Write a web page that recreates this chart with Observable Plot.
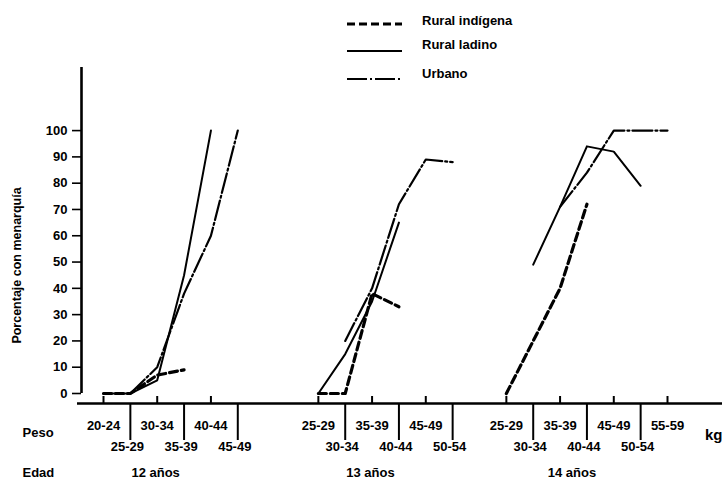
<!DOCTYPE html>
<html><head><meta charset="utf-8">
<script src="https://cdn.jsdelivr.net/npm/d3@7"></script>
<script src="https://cdn.jsdelivr.net/npm/@observablehq/plot@0.6"></script>
<style>
body{margin:0;background:#fff}
#wrap{position:relative;width:727px;height:482px}
</style>
</head><body><div id="wrap"></div>
<script>
// ---- data ----
const series = ["Rural indígena", "Rural ladino", "Urbano"];
const edades = ["12 años", "13 años", "14 años"];
const pesos12 = ["20-24","25-29","30-34","35-39","40-44","45-49"];
const pesos13 = ["25-29","30-34","35-39","40-44","45-49","50-54"];
const pesos14 = ["25-29","30-34","35-39","40-44","45-49","50-54","55-59"];
const indigena12 = [0, 0, 7, 9, null, null];
const ladino12   = [0, 0, 5, 45, 100, null];
const urbano12   = [null, 0, 10, 38, 60, 100];
const indigena13 = [0, 0, 38, 33, null, null];
const ladino13   = [0, 15, 35, 65, null, null];
const urbano13   = [null, 20, 40, 72, 89, 88];
const indigena14 = [0, 20, 40, 72, null, null, null];
const ladino14   = [null, 49, 71, 94, 92, 79, null];
const urbano14   = [null, null, 71, 84, 100, 100, 100];
const yTicks = [0, 10, 20, 30, 40, 50, 60, 70, 80, 90, 100];
const gapSlots = [2, 1]; // empty weight slots between age groups

// ---- build tables ----
const groupsDef = [
  {edad: edades[0], pesos: pesos12, vals: [indigena12, ladino12, urbano12]},
  {edad: edades[1], pesos: pesos13, vals: [indigena13, ladino13, urbano13]},
  {edad: edades[2], pesos: pesos14, vals: [indigena14, ladino14, urbano14]}
];
let slot = 0;
const cats = [], rows = [];
groupsDef.forEach((g, gi) => {
  const start = slot;
  g.pesos.forEach((p, i) => {
    cats.push({edad: g.edad, peso: p, slot, upper: i % 2 === 0});
    g.vals.forEach((arr, si) => {
      if (arr[i] != null) rows.push({serie: series[si], edad: g.edad, slot, value: arr[i]});
    });
    slot++;
  });
  g.center = (start + slot - 1) / 2;
  slot += gapSlots[gi] || 0;
});

// ---- layout ----
const W = 727, H = 482;
const mL = 81, mR = 5, mT = 67, mB = 89;
const kx = (667 - 103) / 21;
const xDom = [(mL - 103) / kx, (W - mR - 103) / kx];
const yDom = [0, 124];
const uy = (yDom[1] - yDom[0]) / (H - mB - mT);
const yBase = -10 * uy;
const font = "'Liberation Sans', Arial, Helvetica, sans-serif";

const lineOpts = {x: "slot", y: "value", z: "edad", stroke: "black", strokeLinejoin: "round"};

const chart = Plot.plot({
  width: W, height: H,
  marginLeft: mL, marginRight: mR, marginTop: mT, marginBottom: mB,
  x: {domain: xDom, axis: null},
  y: {domain: yDom, axis: null},
  style: {fontFamily: font, fontSize: "13px", fontWeight: "bold", background: "white", color: "black"},
  marks: [
    Plot.ruleY([yBase], {x1: (77 - 103) / kx, x2: xDom[1], strokeWidth: 2.6}),
    Plot.ruleX([xDom[0]], {y1: 0, y2: yDom[1], strokeWidth: 2.6}),
    Plot.axisY({ticks: yTicks, tickSize: 9, tickPadding: 5, label: null, fontSize: 13, strokeWidth: 1.6}),
    Plot.text(["Porcentaje con menarquía"], {x: xDom[0], y: 48.7, dx: -65, rotate: -90, fontSize: 12.5}),
    Plot.ruleX(cats.filter(d => d.upper), {x: "slot", y1: yBase, y2: -3 * uy, strokeWidth: 2}),
    Plot.ruleX(cats.filter(d => !d.upper), {x: "slot", y1: yBase, y2: -47 * uy, strokeWidth: 2}),
    Plot.text(cats.filter(d => d.upper), {x: "slot", y: yBase, dy: 22, text: "peso", fontSize: 13}),
    Plot.text(cats.filter(d => !d.upper), {x: "slot", y: yBase, dy: 43, text: "peso", dx: -3, fontSize: 13}),
    Plot.text(["Peso"], {x: xDom[0], y: yBase, dx: -59, dy: 29, textAnchor: "start", fontSize: 13}),
    Plot.text(["Edad"], {x: xDom[0], y: yBase, dx: -59, dy: 69, textAnchor: "start", fontSize: 13}),
    Plot.text(groupsDef, {x: "center", y: yBase, dx: -15, dy: 69, text: "edad", fontSize: 13}),
    Plot.text(["kg"], {x: xDom[1], y: yBase, dy: 32, textAnchor: "end", fontSize: 15}),
    Plot.line(rows.filter(d => d.serie === series[1]), {...lineOpts, strokeWidth: 2}),
    Plot.line(rows.filter(d => d.serie === series[2]), {...lineOpts, strokeWidth: 2.2, strokeDasharray: "20,3,2,3"}),
    Plot.line(rows.filter(d => d.serie === series[0]), {...lineOpts, strokeWidth: 3.2, strokeDasharray: "8,4"})
  ]
});
document.getElementById("wrap").appendChild(chart);

// ---- legend ----
const svg = d3.select(chart);
const legend = svg.append("g").attr("font-family", font).attr("font-weight", "bold")
  .attr("font-size", 13).attr("text-anchor", "start");
const legY = [24, 51, 79];
const legTextY = [20, 44, 73];
const legDash = ["8,4", null, "20,3,2,3"];
const legWidth = [3.2, 2, 2.2];
series.forEach((s, i) => {
  legend.append("line").attr("x1", 347).attr("x2", 402).attr("y1", legY[i]).attr("y2", legY[i])
    .attr("stroke", "black").attr("stroke-width", legWidth[i])
    .attr("stroke-dasharray", legDash[i]);
  legend.append("text").attr("x", 422).attr("y", legTextY[i]).attr("dy", "0.35em")
    .attr("text-anchor", "start").text(s);
});
</script>
</body></html>
